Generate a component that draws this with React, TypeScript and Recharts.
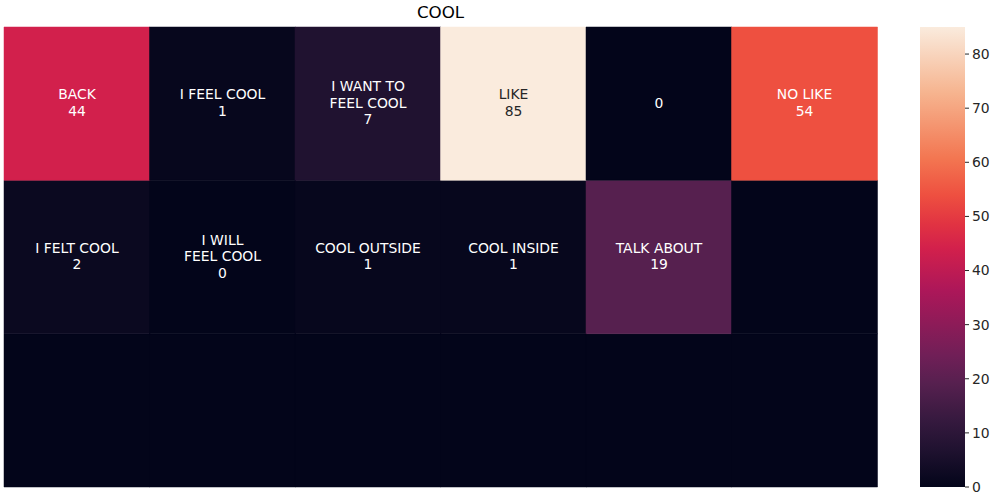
import React from 'react';
import { BarChart, Bar, XAxis, YAxis, Cell, LabelList } from 'recharts';

const columns = ['c1', 'c2', 'c3', 'c4', 'c5', 'c6'];
const row1Values = [44, 1, 7, 85, 0, 54];
const row2Values = [2, 0, 1, 1, 19, 0];
const row3Values = [0, 0, 0, 0, 0, 0];
const row1Annot = ['BACK\n44', 'I FEEL COOL\n1', 'I WANT TO\nFEEL COOL\n7', 'LIKE\n85', '0', 'NO LIKE\n54'];
const row2Annot = ['I FELT COOL\n2', 'I WILL\nFEEL COOL\n0', 'COOL OUTSIDE\n1', 'COOL INSIDE\n1', 'TALK ABOUT\n19', ''];
const row3Annot = ['', '', '', '', '', ''];
const colorbarTicks = [0, 10, 20, 30, 40, 50, 60, 70, 80];
const vmin = 0;
const vmax = 85;
const title = 'COOL';

// rocket colormap stops (position 0..1, colour)
const rocketStops: [number, string][] = [
  [0, '#03051a'],
  [0.082, '#201230'],
  [1 / 7, '#35193e'],
  [0.224, '#56204f'],
  [2 / 7, '#701f57'],
  [3 / 7, '#ad1759'],
  [0.518, '#d2204c'],
  [4 / 7, '#e13342'],
  [0.635, '#ee5040'],
  [5 / 7, '#f37651'],
  [6 / 7, '#f6b48f'],
  [1, '#faebdd'],
];

const hexToRgb = (h: string) => [parseInt(h.slice(1, 3), 16), parseInt(h.slice(3, 5), 16), parseInt(h.slice(5, 7), 16)];

const rocketRgb = (v: number) => {
  const t = Math.max(0, Math.min(1, (v - vmin) / (vmax - vmin)));
  for (let i = 0; i < rocketStops.length - 1; i++) {
    const [t0, c0] = rocketStops[i];
    const [t1, c1] = rocketStops[i + 1];
    if (t <= t1) {
      const f = (t - t0) / (t1 - t0);
      const a = hexToRgb(c0);
      const b = hexToRgb(c1);
      return a.map((x, k) => Math.round(x + (b[k] - x) * f));
    }
  }
  return hexToRgb(rocketStops[rocketStops.length - 1][1]);
};
const rocket = (v: number) => {
  const [r, g, b] = rocketRgb(v);
  return `rgb(${r},${g},${b})`;
};
const textColor = (v: number) => {
  const [r, g, b] = rocketRgb(v).map((c) => {
    const s = c / 255;
    return s <= 0.03928 ? s / 12.92 : Math.pow((s + 0.055) / 1.055, 2.4);
  });
  const lum = 0.2126 * r + 0.7152 * g + 0.0722 * b;
  return lum > 0.408 ? '#262626' : '#ffffff';
};

const rows = [
  { key: 'r3', values: row3Values, annot: row3Annot },
  { key: 'r2', values: row2Values, annot: row2Annot },
  { key: 'r1', values: row1Values, annot: row1Annot },
];

const data = columns.map((c) => ({ col: c, r1: 1, r2: 1, r3: 1 }));

const FONT = 'DejaVu Sans';

const makeLabel = (values: number[], annot: string[]) => (props: any) => {
  const { x, y, width, height, index } = props;
  const txt = annot[index];
  if (!txt) return null;
  const lines = txt.split('\n');
  const lh = 16.5;
  const cx = Number(x) + Number(width) / 2;
  const cy = Number(y) + Number(height) / 2 - 1;
  const y0 = cy - ((lines.length - 1) / 2) * lh;
  return (
    <text
      x={cx}
      y={y0}
      textAnchor="middle"
      fontFamily={FONT}
      fontSize={13.9}
      fill={textColor(values[index])}
    >
      {lines.map((l, i) => (
        <tspan key={i} x={cx} y={y0 + i * lh} dominantBaseline="central">
          {l}
        </tspan>
      ))}
    </text>
  );
};

const cbData = [{ name: 'cb', v: vmax }];

export default function App() {
  return (
    <div style={{ position: 'absolute', left: 0, top: 0, width: 1000, height: 500, background: '#fff' }}>
      <div style={{ position: 'absolute', left: 0, top: 0, width: 900, height: 500 }}>
        <BarChart
          width={900}
          height={500}
          data={data}
          margin={{ top: 27, right: 23, bottom: 13, left: 4 }}
          barCategoryGap={0}
          barGap={0}
        >
          <XAxis dataKey="col" hide />
          <YAxis hide domain={[0, 3]} />
          {rows.map((r) => (
            <Bar key={r.key} dataKey={r.key} stackId="a" isAnimationActive={false}>
              {r.values.map((v, i) => (
                <Cell key={i} fill={rocket(v)} stroke={rocket(v)} strokeWidth={0.5} />
              ))}
              <LabelList dataKey={r.key} content={makeLabel(r.values, r.annot)} />
            </Bar>
          ))}
        </BarChart>
      </div>
      <div
        style={{
          position: 'absolute',
          left: 4,
          width: 873,
          top: 2,
          textAlign: 'center',
          fontFamily: FONT,
          fontSize: 16.7,
          color: '#000',
        }}
      >
        {title}
      </div>
      <div style={{ position: 'absolute', left: 900, top: 0, width: 100, height: 500 }}>
        <BarChart
          width={100}
          height={500}
          data={cbData}
          margin={{ top: 27, right: 5, bottom: 13, left: 20 }}
          barCategoryGap={0}
        >
          <defs>
            <linearGradient id="rocketGrad" x1="0" y1="1" x2="0" y2="0">
              {rocketStops.map(([t, c], i) => (
                <stop key={i} offset={`${t * 100}%`} stopColor={c} />
              ))}
            </linearGradient>
          </defs>
          <XAxis dataKey="name" hide />
          <YAxis
            orientation="right"
            width={30}
            domain={[vmin, vmax]}
            ticks={colorbarTicks}
            axisLine={false}
            tickSize={4}
            tickMargin={3}
            tickLine={{ stroke: '#262626', strokeWidth: 1 }}
            tick={{ fill: '#262626', fontSize: 13.9, fontFamily: FONT }}
            interval={0}
          />
          <Bar dataKey="v" fill="url(#rocketGrad)" isAnimationActive={false} />
        </BarChart>
      </div>
    </div>
  );
}
